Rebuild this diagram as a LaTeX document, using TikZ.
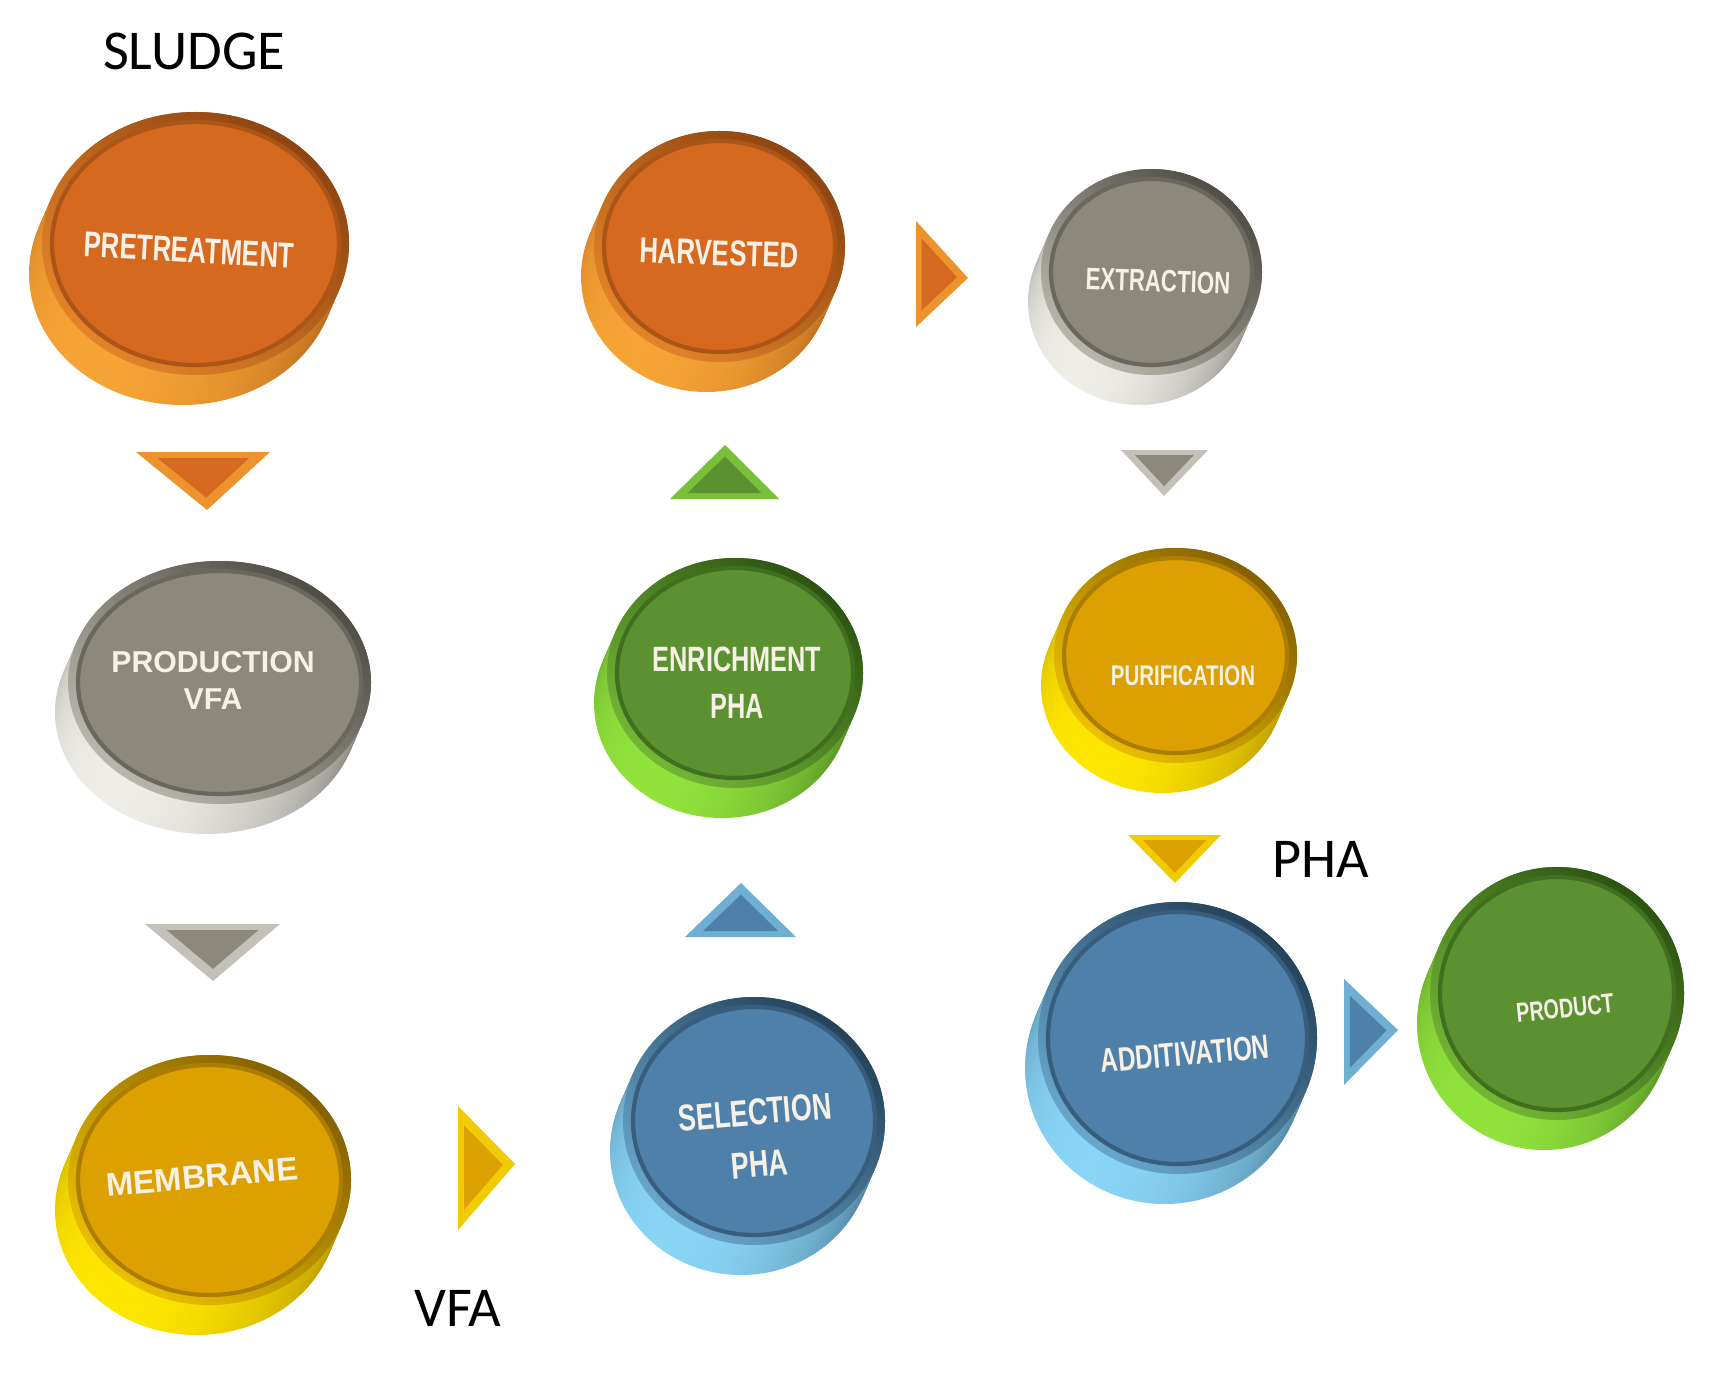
\documentclass[tikz,border=0pt]{standalone}
\usepackage{fontspec}
\setmainfont{Carlito}
\newfontfamily\discN{Liberation Sans}
\newfontfamily\discC[FakeStretch=0.72]{Liberation Sans}
\usetikzlibrary{shapes.geometric,calc}
\definecolor{orF}{HTML}{D4691F}\definecolor{orL}{HTML}{F7A535}\definecolor{orD}{HTML}{8E4510}
\definecolor{grF}{HTML}{8C887C}\definecolor{grL}{HTML}{F0EFEA}\definecolor{grD}{HTML}{4F4D45}
\definecolor{goF}{HTML}{DCA000}\definecolor{goL}{HTML}{FFE800}\definecolor{goD}{HTML}{846000}
\definecolor{gnF}{HTML}{5B9130}\definecolor{gnL}{HTML}{92E43C}\definecolor{gnD}{HTML}{2C5412}
\definecolor{blF}{HTML}{4E80AA}\definecolor{blL}{HTML}{8AD6F7}\definecolor{blD}{HTML}{24425A}
\definecolor{txW}{HTML}{F6F0E6}
\tikzset{
  faceE/.style={ellipse, inner sep=0pt},
  dtext/.style={text=txW, align=center, inner sep=0pt},
  outlab/.style={font=\fontsize{16}{18}\selectfont, text=black, inner sep=0pt},
}
\def\dX{13}\def\dY{30}
% name, x1, x2, y1, y2, face, light, dark
\newcommand\mydisc[8]{%
  \pgfmathsetmacro\dW{(#3-#2-\dX)*0.01}%
  \pgfmathsetmacro\dH{(#5-#4-\dY)*0.01}%
  \pgfmathsetmacro\hW{\dW/2}%
  \pgfmathsetmacro\hH{\dH/2}%
  \pgfmathsetmacro\iW{\dW-0.2}%
  \pgfmathsetmacro\iH{\dH-0.2}%
  \pgfmathsetmacro\rX{(#2+#3-\dX)/2}%
  \pgfmathsetmacro\rY{(#4+#5+\dY)/2}%
  \pgfmathsetmacro\fX{(#2+#3+\dX)/2}%
  \pgfmathsetmacro\fY{(#4+#5-\dY)/2}%
  \foreach \k in {0,...,10}{%
    \pgfmathsetmacro\sx{\rX+\k*\dX/10}%
    \pgfmathsetmacro\sy{\rY-\k*\dY/10}%
    \path[top color=#8!80!#6, bottom color=#7, shading angle=-35] (\sx,\sy) ellipse [x radius=\hW cm, y radius=\hH cm];
  }
  \node[faceE, minimum width=\dW cm, minimum height=\dH cm, top color=#8, bottom color=#6!55!#7, shading angle=-40] (#1) at (\fX,\fY) {};
  \node[faceE, minimum width=\iW cm, minimum height=\iH cm, fill=#6, draw=#8!55!#6, line width=1.2pt] (#1in) at (\fX,\fY) {};
}
% name, p1, p2, p3, outer, inner
\newcommand\mytri[6]{%
  \coordinate (#1a) at #2; \coordinate (#1b) at #3; \coordinate (#1c) at #4;
  \coordinate (#1m) at (barycentric cs:#1a=1,#1b=1,#1c=1);
  \fill[#5] (#1a) -- (#1b) -- (#1c) -- cycle;
  \fill[#6] ($(#1m)!0.68!(#1a)$) -- ($(#1m)!0.68!(#1b)$) -- ($(#1m)!0.68!(#1c)$) -- cycle;
}
\begin{document}
\begin{tikzpicture}[x=0.01cm, y=-0.01cm]
\useasboundingbox[fill=white] (0,0) rectangle (1709,1376);

% discs
\mydisc{pre}{29}{349}{112}{405}{orF}{orL}{orD}
\mydisc{prod}{55}{371}{561}{834}{grF}{grL}{grD}
\mydisc{mem}{55}{351}{1055}{1335}{goF}{goL}{goD}
\mydisc{sel}{610}{885}{997}{1275}{blF}{blL}{blD}
\mydisc{enr}{594}{863}{558}{818}{gnF}{gnL}{gnD}
\mydisc{har}{581}{845}{131}{392}{orF}{orL}{orD}
\mydisc{ext}{1028}{1262}{169}{405}{grF}{grL}{grD}
\mydisc{pur}{1041}{1297}{548}{793}{goF}{goL}{goD}
\mydisc{add}{1025}{1317}{902}{1204}{blF}{blL}{blD}
\mydisc{prd}{1417}{1684}{867}{1150}{gnF}{gnL}{gnD}

% disc texts
\node[dtext, rotate=-3, font=\discC\bfseries\fontsize{10.2}{12}\selectfont] (preT) at (189,250) {PRETREATMENT};
\node[dtext, font=\discN\bfseries\fontsize{8.6}{10.5}\selectfont] (prodT) at (213,680) {PRODUCTION\\VFA};
\node[dtext, rotate=5, font=\discN\bfseries\fontsize{9.3}{11}\selectfont] (memT) at (202,1177) {MEMBRANE};
\node[dtext, rotate=5, font=\discC\bfseries\fontsize{10.6}{14.8}\selectfont] (selT) at (757,1138) {SELECTION\\PHA};
\node[dtext, font=\discC\bfseries\fontsize{10}{13.4}\selectfont] (enrT) at (737,683) {ENRICHMENT\\PHA};
\node[dtext, rotate=-2, font=\discC\bfseries\fontsize{10.2}{12}\selectfont] (harT) at (719,253) {HARVESTED};
\node[dtext, rotate=-2, font=\discC\bfseries\fontsize{8.8}{11}\selectfont] (extT) at (1158,281) {EXTRACTION};
\node[dtext, font=\discC\bfseries\fontsize{8.1}{10}\selectfont] (purT) at (1183,676) {PURIFICATION};
\node[dtext, rotate=5, font=\discC\bfseries\fontsize{9.6}{11}\selectfont] (addT) at (1185,1054) {ADDITIVATION};
\node[dtext, rotate=6, font=\discC\bfseries\fontsize{7.8}{10}\selectfont] (prdT) at (1565,1008) {PRODUCT};

% arrows (triangles)
\mytri{t1}{(136,452)}{(270,452)}{(207,510)}{orL!70!orF}{orF}
\mytri{t2}{(145,924)}{(280,924)}{(213,981)}{grL!55!grF}{grF}
\mytri{t3}{(458,1106)}{(458,1230)}{(515,1164)}{goL!60!goF}{goF}
\mytri{t4}{(685,937)}{(796,937)}{(741,883)}{blL!55!blF}{blF}
\mytri{t5}{(670,499)}{(779,499)}{(725,445)}{gnL!55!gnF}{gnF}
\mytri{t6}{(916,221)}{(916,327)}{(968,278)}{orL!70!orF}{orF}
\mytri{t7}{(1121,450)}{(1208,450)}{(1164,496)}{grL!55!grF}{grF}
\mytri{t8}{(1128,835)}{(1221,835)}{(1175,883)}{goL!60!goF}{goF}
\mytri{t9}{(1344,979)}{(1344,1085)}{(1398,1030)}{blL!55!blF}{blF}

% outside labels
\node[outlab] (sludge) at (194,51) {SLUDGE};
\node[outlab] (vfa) at (458,1308) {VFA};
\node[outlab] (pha) at (1321,859) {PHA};
\end{tikzpicture}
\end{document}
